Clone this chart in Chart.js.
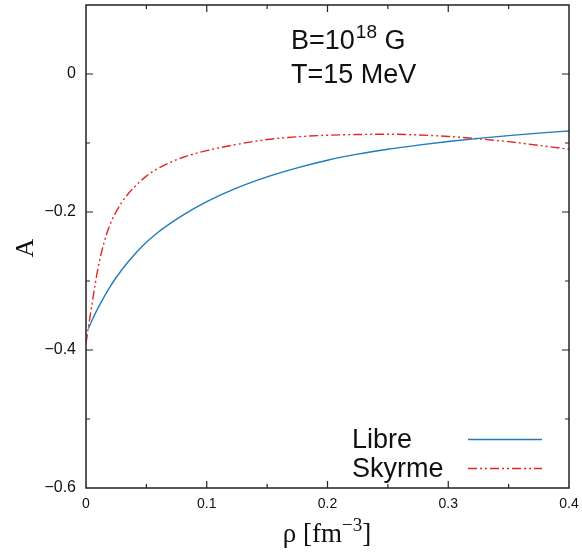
<!DOCTYPE html>
<html>
<head>
<meta charset="utf-8">
<script src="https://cdn.jsdelivr.net/npm/chart.js@4"></script>
<style>
  html, body { margin: 0; padding: 0; background: #fff; }
  #wrap { width: 582px; height: 552px; }
</style>
</head>
<body>
<div id="wrap"><canvas id="asym" width="582" height="552"></canvas></div>
<script>
const rhoLibre = [0.002, 0.005, 0.01, 0.02, 0.03, 0.04, 0.05, 0.06, 0.08, 0.1, 0.125, 0.15, 0.175, 0.2, 0.225, 0.25, 0.275, 0.3, 0.325, 0.35, 0.375, 0.4];
const aLibre = [-0.369, -0.357, -0.339, -0.308, -0.283, -0.262, -0.244, -0.229, -0.205, -0.185, -0.165, -0.149, -0.136, -0.125, -0.1162, -0.109, -0.103, -0.0978, -0.0933, -0.0893, -0.0857, -0.0825];

const rhoSkyrme = [0, 0.005, 0.01, 0.015, 0.02, 0.03, 0.04, 0.05, 0.06, 0.08, 0.1, 0.125, 0.15, 0.175, 0.2, 0.225, 0.25, 0.275, 0.3, 0.325, 0.35, 0.375, 0.4];
const aSkyrme = [-0.390, -0.333, -0.281, -0.244, -0.218, -0.185, -0.164, -0.148, -0.1365, -0.121, -0.111, -0.102, -0.095, -0.091, -0.0887, -0.0877, -0.0873, -0.0883, -0.0905, -0.094, -0.098, -0.1035, -0.109];

const xLabels = ["0", "0.1", "0.2", "0.3", "0.4"];
const yLabels = ["0", "\u22120.2", "\u22120.4", "\u22120.6"];

const blue = "#1f7bbd";
const red = "#e3261e";
const skyrmeDash = [9, 3, 2, 3, 2, 3];

const pts = (xs, ys) => xs.map((x, i) => ({ x: x, y: ys[i] }));

// frame + inward ticks on all four sides
const framePlugin = {
  id: "frame",
  afterDraw(chart) {
    const ctx = chart.ctx, a = chart.chartArea;
    const xs = chart.scales.x, ys = chart.scales.y;
    ctx.save();
    ctx.strokeStyle = "#222";
    ctx.lineWidth = 1.5;
    ctx.strokeRect(a.left, a.top, a.right - a.left, a.bottom - a.top);
    ctx.lineWidth = 1.2;
    xs.ticks.forEach(t => {
      const px = xs.getPixelForValue(t.value);
      if (px <= a.left + 1 || px >= a.right - 1) return;
      const major = Math.abs(Math.round(t.value * 20)) % 2 === 0;
      const len = major ? 7 : 4;
      ctx.beginPath();
      ctx.moveTo(px, a.bottom); ctx.lineTo(px, a.bottom - len);
      ctx.moveTo(px, a.top); ctx.lineTo(px, a.top + len);
      ctx.stroke();
    });
    ys.ticks.forEach(t => {
      const py = ys.getPixelForValue(t.value);
      if (py <= a.top + 1 || py >= a.bottom - 1) return;
      const major = Math.abs(Math.round(t.value * 10)) % 2 === 0;
      const len = major ? 7 : 4;
      ctx.beginPath();
      ctx.moveTo(a.left, py); ctx.lineTo(a.left + len, py);
      ctx.moveTo(a.right, py); ctx.lineTo(a.right - len, py);
      ctx.stroke();
    });
    ctx.restore();
  }
};

// axis titles, annotation and legend
const textPlugin = {
  id: "texts",
  afterDraw(chart) {
    const ctx = chart.ctx;
    ctx.save();
    ctx.fillStyle = "#111";
    ctx.textBaseline = "alphabetic";

    // x title: rho [fm^-3]
    const big = "27px 'Liberation Serif'", sup = "19px 'Liberation Serif'";
    ctx.font = big;
    const w1 = ctx.measureText("\u03c1 [fm").width;
    const w3 = ctx.measureText("]").width;
    ctx.font = sup;
    const w2 = ctx.measureText("\u22123").width;
    let x0 = 327 - (w1 + w2 + w3) / 2;
    ctx.font = big;
    ctx.fillText("\u03c1 [fm", x0, 542);
    ctx.font = sup;
    ctx.fillText("\u22123", x0 + w1, 531);
    ctx.font = big;
    ctx.fillText("]", x0 + w1 + w2, 542);

    // y title: A
    ctx.save();
    ctx.translate(33, 248);
    ctx.rotate(-Math.PI / 2);
    ctx.textAlign = "center";
    ctx.font = "26px 'Liberation Serif'";
    ctx.fillText("A", 0, 0);
    ctx.restore();

    // annotation
    const ann = "27px 'Liberation Sans'", annSup = "19px 'Liberation Sans'";
    ctx.font = ann;
    ctx.fillText("B=10", 291, 49);
    let bx = 291 + ctx.measureText("B=10").width;
    ctx.font = annSup;
    ctx.fillText("18", bx + 1, 38);
    bx += 1 + ctx.measureText("18").width;
    ctx.font = ann;
    ctx.fillText(" G", bx, 49);
    ctx.fillText("T=15 MeV", 291, 83);

    // legend
    const ds = chart.data.datasets;
    const rows = [448, 477];
    ds.forEach((d, i) => {
      ctx.font = "27px 'Liberation Sans'";
      ctx.fillStyle = "#111";
      ctx.fillText(d.label, 352, rows[i]);
      ctx.strokeStyle = d.borderColor;
      ctx.lineWidth = d.borderWidth;
      ctx.setLineDash(d.borderDash || []);
      ctx.beginPath();
      ctx.moveTo(468, rows[i] - 8.5);
      ctx.lineTo(542, rows[i] - 8.5);
      ctx.stroke();
      ctx.setLineDash([]);
    });
    ctx.restore();
  }
};

new Chart(document.getElementById("asym"), {
  type: "line",
  data: {
    datasets: [
      { label: "Libre", data: pts(rhoLibre, aLibre), borderColor: blue, borderWidth: 1.4,
        pointRadius: 0, cubicInterpolationMode: "monotone", fill: false },
      { label: "Skyrme", data: pts(rhoSkyrme, aSkyrme), borderColor: red, borderWidth: 1.4,
        borderDash: skyrmeDash, pointRadius: 0, cubicInterpolationMode: "monotone", fill: false }
    ]
  },
  options: {
    responsive: false,
    animation: false,
    layout: { autoPadding: false, padding: { left: 0, right: 13, top: 5, bottom: 0 } },
    plugins: { legend: { display: false }, tooltip: { enabled: false } },
    scales: {
      x: {
        type: "linear", min: 0, max: 0.4,
        grid: { display: false, drawTicks: false },
        border: { display: false },
        ticks: {
          stepSize: 0.05, autoSkip: false, maxRotation: 0, padding: 8,
          color: "#111", font: { family: "'Liberation Sans'", size: 14 },
          callback: v => {
            const k = Math.round(v * 20);
            return k % 2 === 0 ? xLabels[k / 2] : "";
          }
        },
        afterFit: s => {
          s.height = 64;
          s.paddingLeft = 0; s.paddingRight = 0; s.paddingTop = 0; s.paddingBottom = 0;
        }
      },
      y: {
        min: -0.6, max: 0.1,
        grid: { display: false, drawTicks: false },
        border: { display: false },
        ticks: {
          stepSize: 0.1, autoSkip: false, padding: 10,
          color: "#111", font: { family: "'Liberation Sans'", size: 16 },
          callback: v => {
            const k = Math.round(-v * 10);
            return (k >= 0 && k % 2 === 0) ? yLabels[k / 2] : "";
          }
        },
        afterFit: s => {
          s.width = 86;
          s.paddingLeft = 0; s.paddingRight = 0; s.paddingTop = 0; s.paddingBottom = 0;
        }
      }
    }
  },
  plugins: [framePlugin, textPlugin]
});
</script>
</body>
</html>
